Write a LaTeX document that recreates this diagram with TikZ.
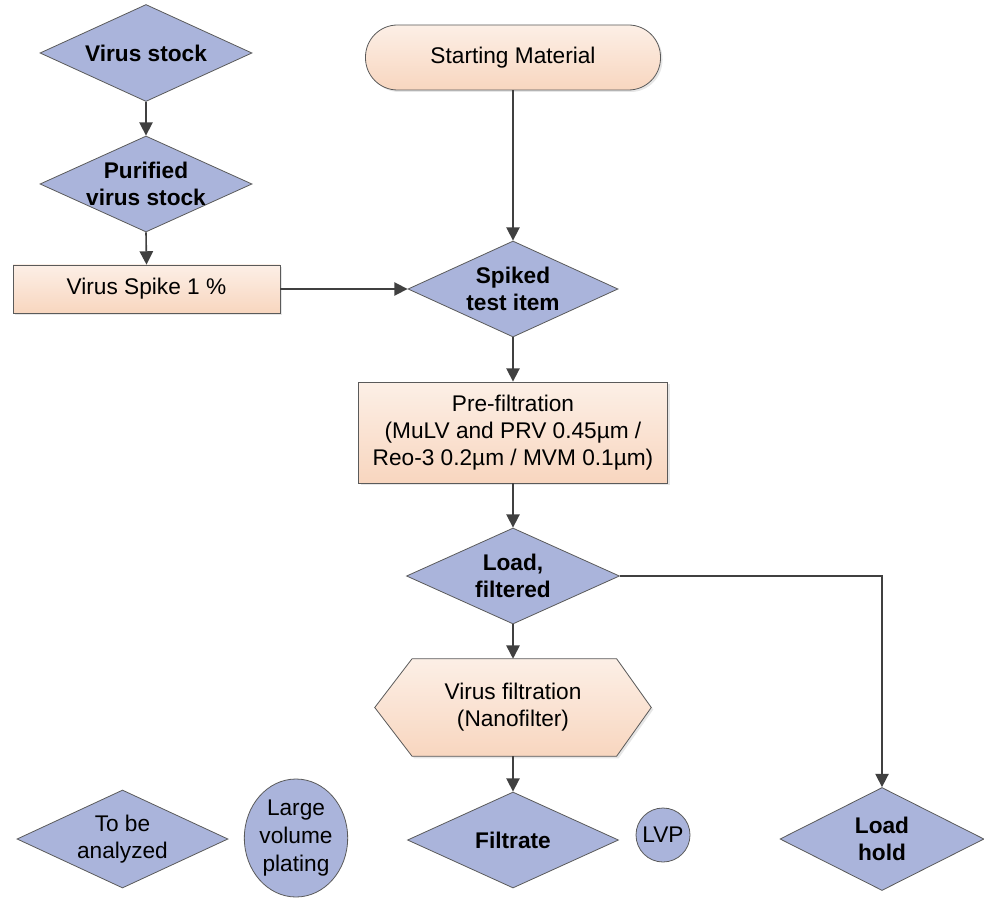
\documentclass[tikz,border=0pt]{standalone}
\usepackage{fontspec}
\setmainfont{Liberation Sans}
\usetikzlibrary{shapes.geometric,arrows.meta,shadows,backgrounds}

\definecolor{diab}{HTML}{AAB4DB}
\definecolor{orT}{HTML}{FCEFE6}
\definecolor{orB}{HTML}{F8D6BF}
\definecolor{lineg}{HTML}{5A5A5A}
\definecolor{arrg}{HTML}{404040}

\begin{document}
\begin{tikzpicture}[x=0.75pt,y=-0.75pt,
  dia/.style={diamond, draw=lineg, line width=0.6pt, fill=diab, inner sep=0pt},
  ell/.style={ellipse, draw=lineg, line width=0.6pt, fill=diab, inner sep=0pt},
  oshadow/.style={drop shadow={opacity=0.2, shadow xshift=1.5pt, shadow yshift=-1.5pt}},
  obox/.style={rectangle, draw=lineg, line width=0.6pt, top color=orT, bottom color=orB, inner sep=0pt, align=center, font=\fontsize{17}{20.25}\selectfont, oshadow},
  lbl/.style={align=center, font=\fontsize{17}{20.25}\selectfont},
  blbl/.style={align=center, font=\fontsize{17}{20}\selectfont\bfseries},
  conn/.style={draw=arrg, line width=1.2pt},
  arr/.style={conn, -{Triangle[length=10pt,width=10pt]}},
]
\useasboundingbox (0,0) rectangle (984,898);

% top-left chain
\node[dia, minimum width=159pt, minimum height=72.75pt, label={[blbl]center:Virus stock}] (vst) at (146,53) {};
\node[dia, minimum width=159pt, minimum height=72pt, label={[blbl]center:Purified\\virus stock}] (pvs) at (146,184) {};
\node[obox, minimum width=200.25pt, minimum height=36pt] (vsp) at (146.5,289) {Virus Spike 1 \%};

% main column
\node[obox, rounded corners=24pt, minimum width=221.25pt, minimum height=48.75pt] (sm) at (513,57.5) {Starting Material};
\node[dia, minimum width=157.5pt, minimum height=72pt, label={[blbl]center:Spiked\\test item}] (st) at (513,289) {};
\node[obox, minimum width=231.75pt, minimum height=75.75pt] (pf) at (513,432.5) {Pre-filtration\\(MuLV and PRV 0.45µm /\\Reo-3 0.2µm / MVM 0.1µm)};
\node[dia, minimum width=159.75pt, minimum height=72pt, label={[blbl]center:Load,\\filtered}] (lf) at (513,576) {};
\node[rectangle, inner sep=0pt, minimum width=207pt, minimum height=72.75pt, lbl] (vf) at (513,707.5) {Virus filtration\\(Nanofilter)};
\begin{scope}[on background layer]
\path[draw=lineg, line width=0.6pt, top color=orT, bottom color=orB, oshadow]
  (vf.west) -- ([xshift=28pt]vf.north west) -- ([xshift=-26pt]vf.north east)
  -- (vf.east) -- ([xshift=-26pt]vf.south east) -- ([xshift=28pt]vf.south west) -- cycle;
\end{scope}
\node[dia, minimum width=158.25pt, minimum height=72pt, label={[blbl]center:Filtrate}] (fil) at (513,840) {};
\node[circle, draw=lineg, line width=0.6pt, fill=diab, minimum size=40.5pt, inner sep=0pt, lbl] (lvp) at (663,835) {LVP};

% bottom-left
\node[dia, minimum width=158.25pt, minimum height=73.5pt, label={[lbl]center:To be\\analyzed}] (tba) at (122.5,839) {};
\node[ell, minimum width=75pt, minimum height=88.5pt, lbl, font=\fontsize{17}{21}\selectfont] (lvpl) at (296,838) {Large\\volume\\plating};

% right
\node[dia, minimum width=153pt, minimum height=77.25pt, label={[blbl]center:Load\\hold}] (lh) at (882,839) {};

% connectors
\draw[arr] (vst.south) -- (pvs.north);
\draw[arr] (pvs.south) -- (vsp.north);
\draw[arr] (vsp.east) -- (st.west);
\draw[arr] (sm.south) -- (st.north);
\draw[arr] (st.south) -- (pf.north);
\draw[arr] (pf.south) -- (lf.north);
\draw[arr] (lf.south) -- (vf.north);
\draw[arr] (vf.south) -- (fil.north);
\draw[arr] (lf.east) -| (lh.north);
\end{tikzpicture}
\end{document}
